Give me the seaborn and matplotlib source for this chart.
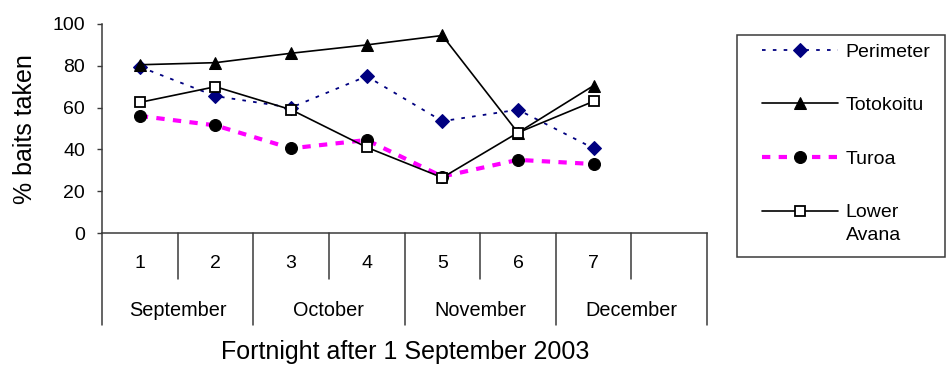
import matplotlib
matplotlib.use("Agg")
import matplotlib.pyplot as plt
from matplotlib.patches import Rectangle
import numpy as np
import seaborn as sns

# ---- data ----
fortnights = ["1", "2", "3", "4", "5", "6", "7", ""]
months = ["September", "October", "November", "December"]
series_names = ["Perimeter", "Totokoitu", "Turoa", "Lower\nAvana"]
perimeter = [79.5, 65.5, 60, 75, 53.5, 59, 40.5]
totokoitu = [80.5, 81.5, 86, 90, 94.5, 48, 70.5]
turoa = [56, 51.5, 40.5, 44.5, 27, 35, 33]
lower_avana = [62.5, 70, 59, 41, 26.5, 48, 63]
y_ticks = [0, 20, 40, 60, 80, 100]
x_title = "Fortnight after 1 September 2003"
y_title = "% baits taken"

sns.set_style("ticks")
plt.rcParams["font.family"] = ["Liberation Sans", "DejaVu Sans"]
plt.rcParams["text.color"] = "black"
plt.rcParams["axes.labelcolor"] = "black"

W, H = 946, 367
fig = plt.figure(figsize=(W / 100, H / 100), dpi=100)
ax_l, ax_r, ax_b, ax_t = 102, 707, 233, 24
ax = fig.add_axes([ax_l / W, 1 - ax_b / H, (ax_r - ax_l) / W, (ax_b - ax_t) / H])

spine_c = "#3a3a3a"
styles = [
    dict(color="#000080", linestyle=(0, (2, 4)), linewidth=1.3, marker="D",
         markersize=7, markerfacecolor="#000080", markeredgecolor="#000080"),
    dict(color="black", linestyle="-", linewidth=1.2, marker="^",
         markersize=9, markerfacecolor="black", markeredgecolor="black"),
    dict(color="#FF00FF", linestyle=(0, (2, 2)), linewidth=3.0, marker="o",
         markersize=8.6, markerfacecolor="black", markeredgecolor="black"),
    dict(color="black", linestyle="-", linewidth=1.2, marker="s",
         markersize=7.6, markerfacecolor="white", markeredgecolor="black",
         markeredgewidth=1.3),
]
x = np.arange(len(perimeter))
for name, vals, st in zip(series_names, [perimeter, totokoitu, turoa, lower_avana], styles):
    sns.lineplot(x=x, y=vals, ax=ax, label=name, **st)

ax.set_xlim(-0.5, len(fortnights) - 0.5)
ax.set_ylim(0, 100)
ax.set_yticks(y_ticks)
ax.set_xticks([])
ax.tick_params(axis="y", direction="out", length=3.6, width=1, color=spine_c,
               labelsize=14, pad=8.5, labelcolor="black")
for s in ["top", "right"]:
    ax.spines[s].set_visible(False)
for s in ["left", "bottom"]:
    ax.spines[s].set_color(spine_c)
    ax.spines[s].set_linewidth(1.1)

# multi-level category axis
ah = ax_b - ax_t
trans = ax.get_xaxis_transform()
for k in range(len(fortnights) + 1):
    xb = k - 0.5
    depth = 92 if k % 2 == 0 else 46
    ax.plot([xb, xb], [0, -depth / ah], transform=trans, color=spine_c,
            linewidth=1.1, clip_on=False)
for i, lab in enumerate(fortnights):
    ax.text(i, -(263 - ax_b) / ah, lab, transform=trans, ha="center",
            va="center", fontsize=14, color="black")
for j, m in enumerate(months):
    ax.text(2 * j + 0.5, -(310 - ax_b) / ah, m, transform=trans, ha="center",
            va="center", fontsize=14.3, color="black")

ax.set_xlabel(x_title, fontsize=18, color="black")
ax.xaxis.label.set_va("center")
ax.xaxis.set_label_coords((405 - ax_l) / (ax_r - ax_l), -(352 - ax_b) / ah)
ax.set_ylabel(y_title, fontsize=18, color="black")
ax.yaxis.label.set_va("center")
ax.yaxis.set_label_coords((25 - ax_l) / (ax_r - ax_l), (ax_b - 129) / ah)

# legend
handles, labels = ax.get_legend_handles_labels()
leg = ax.legend(handles, labels, loc="upper left",
                bbox_to_anchor=(762 / W, 1 - 43 / H), bbox_transform=fig.transFigure,
                frameon=False, fontsize=14, borderpad=0, borderaxespad=0,
                handlelength=3.9, handletextpad=0.4, labelspacing=1.85,
                numpoints=1, labelcolor="black")
leg.get_texts()[-1].set_linespacing(1.45)
try:
    items = leg._legend_handle_box.get_children()[0].get_children()
    items[-1].align = "top"
except Exception:
    pass

fig.add_artist(Rectangle((737 / W, 1 - 257 / H), (945 - 737) / W, (257 - 35) / H,
                         transform=fig.transFigure, fill=False,
                         edgecolor=spine_c, linewidth=1.1))

fig.savefig("out.png", dpi=100)
